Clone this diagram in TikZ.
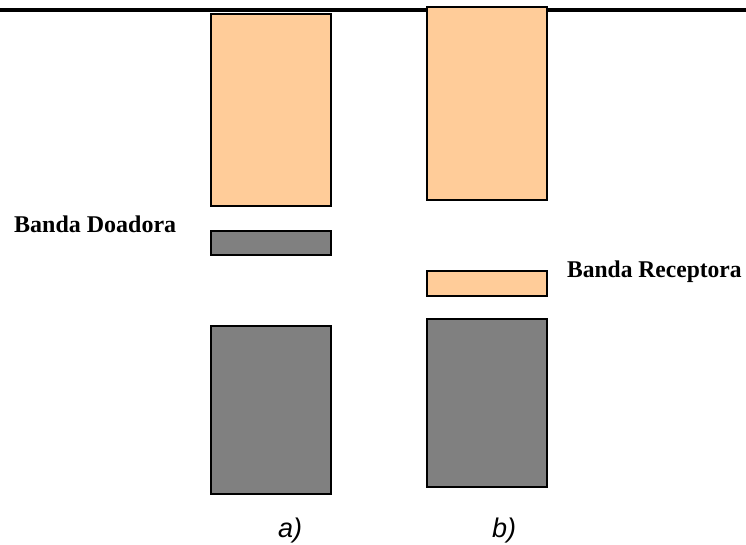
\documentclass[tikz,border=0pt]{standalone}
\usepackage{fontspec}
\newfontfamily\timesfont{Liberation Serif}
\newfontfamily\arialfont{Liberation Sans}
\definecolor{peach}{HTML}{FFCC99}
\definecolor{bandgray}{HTML}{808080}
\begin{document}
\begin{tikzpicture}[x=1pt,y=-1pt,
  peachbox/.style={draw=black,line width=2pt,fill=peach},
  graybox/.style={draw=black,line width=2pt,fill=bandgray},
  bandlabel/.style={font=\timesfont\bfseries\fontsize{24}{28}\selectfont,inner sep=0pt},
  caselabel/.style={font=\arialfont\itshape\fontsize{27}{32}\selectfont,inner sep=0pt}]
\useasboundingbox (0,0) rectangle (746,545);
\coordinate (lineL) at (0,10);
\coordinate (lineR) at (746,10);
\draw[line width=4pt] (lineL) -- (lineR);
% a)
\draw[peachbox] (211,14) rectangle (331,206);
\draw[graybox] (211,231) rectangle (331,255);
\draw[graybox] (211,326) rectangle (331,494);
% b)
\draw[peachbox] (427,7) rectangle (547,200);
\draw[peachbox] (427,271) rectangle (547,296);
\draw[graybox] (427,319) rectangle (547,487);
\node[bandlabel,anchor=west] (doad) at (14,224) {Banda Doadora};
\node[bandlabel,anchor=west,xscale=0.98] (recep) at (567,272) {Banda Receptora};
\node[caselabel] (ca) at (290,531) {a)};
\node[caselabel] (cb) at (504,531) {b)};
\end{tikzpicture}
\end{document}
